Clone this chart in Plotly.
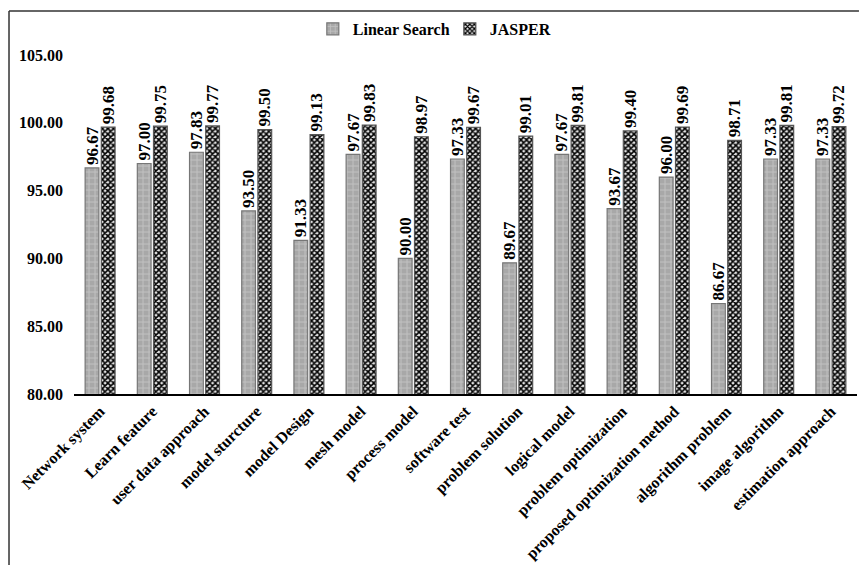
import plotly.graph_objects as go

categories = [
    "Network system", "Learn feature", "user data approach", "model sturcture",
    "model Design", "mesh model", "process model", "software test",
    "problem solution", "logical model", "problem optimization",
    "proposed optimization method", "algorithm problem", "image algorithm",
    "estimation approach",
]
linear_search = [96.67, 97.00, 97.83, 93.50, 91.33, 97.67, 90.00, 97.33,
                 89.67, 97.67, 93.67, 96.00, 86.67, 97.33, 97.33]
jasper = [99.68, 99.75, 99.77, 99.50, 99.13, 99.83, 98.97, 99.67,
          99.01, 99.81, 99.40, 99.69, 98.71, 99.81, 99.72]

FONT = "Liberation Serif"
label_font = dict(family=FONT, size=17, color="black", weight="bold")

fig = go.Figure()
fig.add_trace(go.Bar(
    name="Linear Search",
    x=categories,
    y=linear_search,
    text=[f"{v:.2f}" for v in linear_search],
    textposition="outside",
    textangle=-90,
    textfont=label_font,
    constraintext="none",
    cliponaxis=False,
    marker=dict(
        color="#aeaeae",
        line=dict(color="#767676", width=1.2),
        pattern=dict(shape="+", fgcolor="#c2c2c2", bgcolor="#a8a8a8",
                     size=6, solidity=0.3, fillmode="replace"),
    ),
))
fig.add_trace(go.Bar(
    name="JASPER",
    x=categories,
    y=jasper,
    text=[f"{v:.2f}" for v in jasper],
    textposition="outside",
    textangle=-90,
    textfont=label_font,
    constraintext="none",
    cliponaxis=False,
    marker=dict(
        color="#333333",
        line=dict(color="#555555", width=1.2),
        pattern=dict(shape="x", fgcolor="#000000", bgcolor="#e4e4e4",
                     size=4, solidity=0.62, fillmode="replace"),
    ),
))

# frame edges along the top and left of the figure
frame = dict(color="#333333", width=1.5)
fig.add_shape(type="line", xref="paper", yref="paper",
              x0=-0.083, x1=1.0025, y0=1.13, y1=1.13, line=frame, layer="above")
fig.add_shape(type="line", xref="paper", yref="paper",
              x0=-0.083, x1=-0.083, y0=1.13, y1=-0.505, line=frame, layer="above")

fig.update_layout(
    width=859, height=565,
    margin=dict(l=74, r=2, t=55, b=171),
    paper_bgcolor="white",
    plot_bgcolor="white",
    barmode="group",
    bargap=0.38,
    bargroupgap=0.15,
    font=dict(family=FONT, size=16, color="black", weight="bold"),
    legend=dict(orientation="h", x=0.305, xanchor="left", y=1.077,
                yanchor="middle", font=dict(family=FONT, size=16, weight="bold"),
                itemwidth=30, entrywidth=92, entrywidthmode="pixels",
                tracegroupgap=0),
    showlegend=True,
)
fig.update_yaxes(range=[80, 105], dtick=5, tickformat=".2f", showgrid=False,
                 zeroline=False, showline=False, ticks="",
                 ticklabelstandoff=10,
                 tickfont=dict(family=FONT, size=16, weight="bold"))
fig.update_xaxes(showline=True, linecolor="black", linewidth=1.5, ticks="",
                 tickangle=-45, showgrid=False,
                 tickfont=dict(family=FONT, size=16, weight="bold"))

fig.write_html("out.html")
